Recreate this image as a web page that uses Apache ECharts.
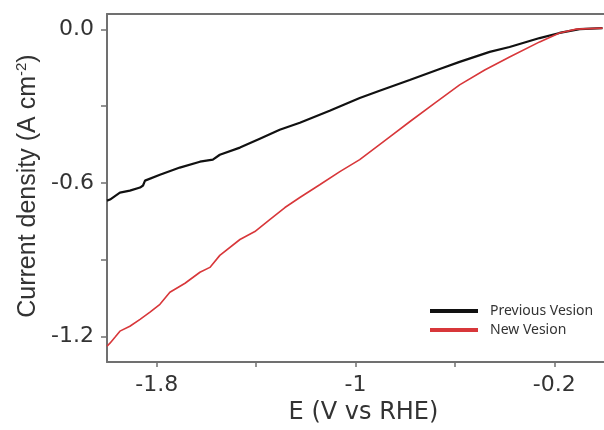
<!DOCTYPE html>
<html>
<head>
<meta charset="utf-8">
<script src="https://cdn.jsdelivr.net/npm/echarts@6/dist/echarts.min.js"></script>
<style>html,body{margin:0;padding:0;background:#fff}#c{width:604px;height:430px}</style>
</head>
<body>
<div id="c"></div>
<script>
// Data
const seriesNames = ['Previous Vesion', 'New Vesion'];
const prevE = [-2.000,-1.988,-1.948,-1.908,-1.867,-1.855,-1.847,-1.787,-1.707,-1.626,-1.574,-1.546,-1.465,-1.385,-1.305,-1.224,-1.104,-0.983,-0.903,-0.782,-0.661,-0.581,-0.460,-0.380,-0.259,-0.179,-0.098,-0.006];
const prevJ = [-0.669,-0.665,-0.638,-0.630,-0.618,-0.610,-0.591,-0.568,-0.540,-0.517,-0.509,-0.490,-0.462,-0.427,-0.392,-0.365,-0.318,-0.268,-0.240,-0.198,-0.155,-0.127,-0.088,-0.069,-0.034,-0.014,0.001,0.005];
const newE = [-2.000,-1.988,-1.968,-1.948,-1.908,-1.867,-1.827,-1.787,-1.747,-1.686,-1.626,-1.586,-1.546,-1.465,-1.405,-1.345,-1.284,-1.224,-1.144,-1.063,-0.983,-0.862,-0.782,-0.681,-0.581,-0.480,-0.380,-0.259,-0.179,-0.111,-0.006];
const newJ = [-1.238,-1.226,-1.203,-1.179,-1.160,-1.133,-1.105,-1.074,-1.027,-0.992,-0.949,-0.930,-0.883,-0.821,-0.790,-0.743,-0.696,-0.657,-0.607,-0.556,-0.509,-0.420,-0.361,-0.288,-0.217,-0.159,-0.108,-0.049,-0.014,0.001,0.005];
const xLabelValues = [-1.8, -1, -0.2];
const xTickValues = [-1.8, -1.4, -1, -0.6, -0.2];
const yLabelValues = [0, -0.6, -1.2];
const yTickValues = [0, -0.3, -0.6, -0.9, -1.2];

const zip = (a, b) => a.map((v, i) => [v, b[i]]);
const labelFont = 'DejaVu Sans, sans-serif';
const titleFont = 'Liberation Sans, Arial, sans-serif';
const axisColor = '#707070';
const textColor = '#333';

const chart = echarts.init(document.getElementById('c'), null, {renderer: 'canvas'});
chart.setOption({
  animation: false,
  backgroundColor: '#fff',
  grid: {left: 107, top: 14, right: -2, bottom: 67, show: false, containLabel: false},
  legend: {
    orient: 'vertical', left: 425, top: 299, itemWidth: 48, itemHeight: 4, itemGap: 5,
    icon: 'rect',
    data: seriesNames,
    textStyle: {fontFamily: 'Noto Sans', fontSize: 14, color: textColor, padding: [0, 0, 0, 7]}
  },
  xAxis: [{
    type: 'value', min: -2, max: 0, position: 'bottom',
    name: 'E (V vs RHE)', nameLocation: 'middle', nameGap: 37,
    nameTextStyle: {fontFamily: labelFont, fontSize: 24, color: textColor, padding: [0, 0, 0, 16]},
    axisLine: {show: true, onZero: false, lineStyle: {color: axisColor, width: 2}},
    axisTick: {show: true, customValues: xTickValues, length: 5, lineStyle: {color: axisColor, width: 1.5}},
    axisLabel: {customValues: xLabelValues, margin: 12, fontFamily: labelFont, fontSize: 22, color: textColor, formatter: v => String(v)},
    splitLine: {show: false}
  }, {
    type: 'value', min: -2, max: 0, position: 'top',
    axisLine: {show: true, onZero: false, lineStyle: {color: axisColor, width: 2}},
    axisTick: {show: false}, axisLabel: {show: false}, splitLine: {show: false}
  }],
  yAxis: {
    type: 'value', min: -1.3, max: 0.06,
    name: 'Current density (A cm{sup|-2})', nameLocation: 'middle', nameGap: 66, nameRotate: 90,
    nameTextStyle: {fontFamily: titleFont, fontSize: 25, color: textColor, padding: [0, 0, 0, 4],
      rich: {sup: {fontFamily: titleFont, fontSize: 15, color: textColor, verticalAlign: 'top', padding: [0, 0, 11, 0]}}},
    axisLine: {show: true, onZero: false, lineStyle: {color: axisColor, width: 2}},
    axisTick: {show: true, customValues: yTickValues, length: 6, lineStyle: {color: axisColor, width: 1.5}},
    axisLabel: {customValues: yLabelValues, margin: 13, fontFamily: labelFont, fontSize: 22, color: textColor, formatter: v => v.toFixed(1)},
    splitLine: {show: false}
  },
  series: [
    {name: seriesNames[0], type: 'line', data: zip(prevE, prevJ), symbol: 'none',
     itemStyle: {color: '#111'}, lineStyle: {color: '#111', width: 2.2}},
    {name: seriesNames[1], type: 'line', data: zip(newE, newJ), symbol: 'none',
     itemStyle: {color: '#d8373a'}, lineStyle: {color: '#d8373a', width: 1.6}}
  ]
});
</script>
</body>
</html>
